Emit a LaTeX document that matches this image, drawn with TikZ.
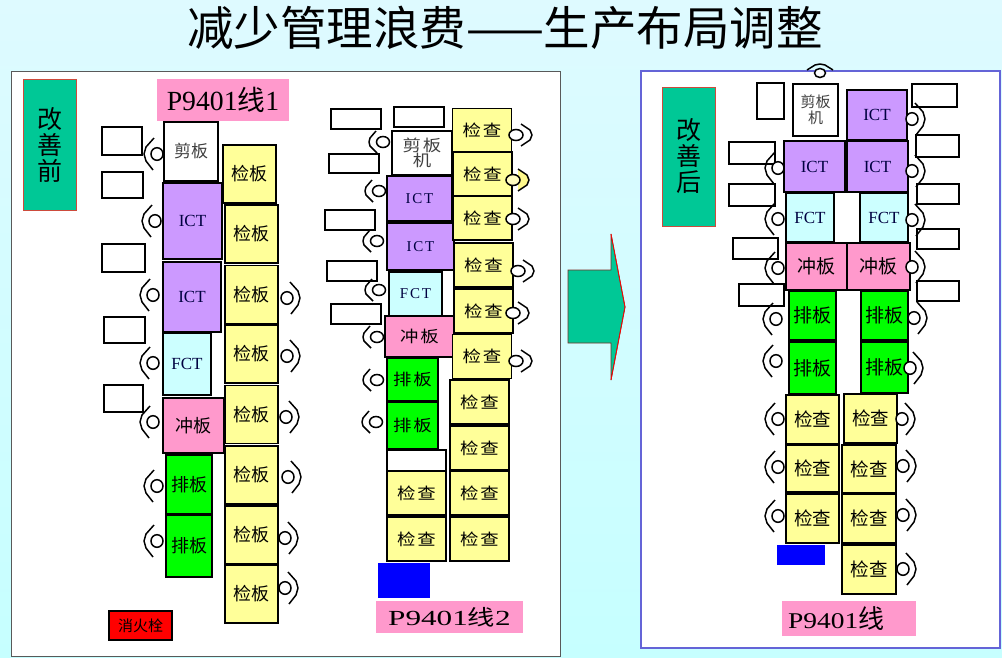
\documentclass[tikz,border=0pt]{standalone}
\usepackage{xcolor}
\usepackage{fontspec}
\setmainfont{Liberation Serif}
\newfontfamily\cjk{Noto Sans CJK SC}
\newfontfamily\cjkwide[FakeStretch=1.15,LetterSpace=12]{Noto Sans CJK SC}
\newfontfamily\serifwide[LetterSpace=12]{Liberation Serif}
\newfontfamily\serifstretch[FakeStretch=1.45]{Liberation Serif}
\newfontfamily\seriftag[FakeStretch=1.22]{Liberation Serif}
\newfontfamily\cjkstretch[FakeStretch=1.27]{Noto Sans CJK SC}
\definecolor{bgtop}{RGB}{222,250,255}
\definecolor{bgbot}{RGB}{198,255,255}
\definecolor{tealbox}{RGB}{0,200,150}
\definecolor{redline}{RGB}{205,75,60}
\definecolor{pinkbox}{RGB}{255,153,204}
\definecolor{ictbox}{RGB}{204,153,255}
\definecolor{fctbox}{RGB}{204,255,255}
\definecolor{jcbox}{RGB}{255,255,153}
\definecolor{panelblue}{RGB}{100,100,215}
\usepackage{tikz}

\begin{document}
\begin{tikzpicture}[
  x=1pt, y=-1pt,
  machine/.style={draw=black, line width=1.5pt, inner sep=0pt, align=center},
  cutbox/.style={machine, fill=white, text=black!75, font=\cjk\fontsize{17}{20}\selectfont},
  ictm/.style={machine, fill=ictbox, text=blue!25!black, font=\fontsize{17}{20}\selectfont},
  fctm/.style={machine, fill=fctbox, text=blue!25!black, font=\fontsize{17}{20}\selectfont},
  punch/.style={machine, fill=pinkbox, font=\cjk\fontsize{18}{20}\selectfont},
  sortm/.style={machine, fill=green, font=\cjk\fontsize{18}{20}\selectfont},
  inspb/.style={machine, fill=jcbox, minimum width=53, minimum height=58, font=\cjk\fontsize{18}{20}\selectfont},
  inspc/.style={machine, fill=jcbox, minimum width=59, minimum height=44, font=\cjkwide\fontsize{16}{18}\selectfont},
  inspd/.style={machine, fill=jcbox, minimum width=53, minimum height=49, font=\cjk\fontsize{18.5}{20}\selectfont},
  wide/.style={font=\serifwide\fontsize{15}{18}\selectfont},
  widezh/.style={font=\cjkwide\fontsize{16}{18}\selectfont},
  bigzh/.style={font=\cjk\fontsize{19}{20}\selectfont},
  lbox/.style={draw=black, line width=1.5pt, fill=white, inner sep=0pt},
  tagbox/.style={fill=pinkbox, inner sep=0pt, anchor=center},
  statebox/.style={draw=redline, fill=tealbox, line width=.8pt, inner sep=0pt, align=center,
    minimum width=53, font=\cjk\fontsize{25}{27}\selectfont},
  opl/.pic={
    \draw[line width=1.5pt, fill=white] (0,0) circle[x radius=6, y radius=6.3];
    \draw[line width=1.5pt, line join=round] (-3,-16) -- (-11,-7) -- (-13,0) -- (-11,7) -- (-4,16);
  },
  opr/.pic={
    \draw[line width=1.5pt, fill=white] (0,0) circle[x radius=6, y radius=6.3];
    \draw[line width=1.5pt, line join=round] (3,-16) -- (11,-7) -- (13,0) -- (11,7) -- (4,16);
  },
  opc/.pic={
    \draw[line width=1.5pt, fill=white] (0,0) circle[x radius=7, y radius=5.5];
    \draw[line width=1.5pt, line join=round] (5,-11) -- (14,-5) -- (16,0) -- (14,5) -- (5,11);
  },
  opb/.pic={
    \draw[line width=1.5pt, fill=white] (0,0) circle[x radius=6.5, y radius=5.5];
    \draw[line width=1.5pt, line join=round] (-7,-11) -- (-13,-4) -- (-14,0) -- (-13,4) -- (-6,11);
  },
  opy/.pic={
    \fill[yellow!45!white] (5,-11) -- (14,-5) -- (16,0) -- (14,5) -- (5,11) -- cycle;
    \draw[line width=1.5pt, line join=round] (5,-11) -- (14,-5) -- (16,0) -- (14,5) -- (5,11);
    \draw[line width=1.5pt, fill=yellow!25!white] (0,0) circle[x radius=7, y radius=5.5];
  },
  opt/.pic={
    \draw[line width=1.5pt, fill=white] (0,0) circle[x radius=5.5, y radius=4.5];
    \draw[line width=1.5pt, line join=round] (-13,-3) -- (-5,-8) -- (0,-9) -- (5,-8) -- (13,-3);
  }
]
\useasboundingbox (0,0) rectangle (1002,657);
\fill[bottom color=bgbot, top color=bgtop] (0,0) rectangle (1002,657);

\node (title) at (505,28) {\cjk\fontsize{46.5}{50}\selectfont 减少管理浪费——生产布局调整};

% panels
\draw[draw=black!65, fill=white, line width=1pt] (11,71) rectangle (560,656);
\draw[draw=panelblue, fill=white, line width=1.1pt] (641,71) rectangle (1000,648);

% before
\node[statebox, minimum height=131] (before) at (49.5,144.5) {改\\[-1pt]善\\[-1pt]前};
\node[tagbox, minimum width=132, minimum height=42] (tag1) at (223,100)
  {\fontsize{27.7}{30}\selectfont P9401{\cjk 线}1\hspace{14pt}};
\node[lbox, minimum width=40, minimum height=28] (lb1) at (122,141) {};
\node[lbox, minimum width=41, minimum height=26] (lb2) at (122.5,185) {};
\node[lbox, minimum width=43, minimum height=28] (lb3) at (123.5,258) {};
\node[lbox, minimum width=41, minimum height=26] (lb4) at (124.5,330) {};
\node[lbox, minimum width=39, minimum height=27] (lb5) at (123.5,398.5) {};

\node[cutbox, minimum width=54, minimum height=59] (cut1) at (191,151.5) {剪板};
\node[ictm, minimum width=59, minimum height=76] (ict1a) at (192.5,221) {ICT};
\node[ictm, minimum width=58, minimum height=70] (ict1b) at (192,297) {ICT};
\node[fctm, minimum width=48, minimum height=62] (fct1) at (187,364) {FCT};
\node[punch, minimum width=61, minimum height=55] (punch1) at (193.5,425.5) {冲板};
\node[sortm, minimum width=46, minimum height=59] (sort1a) at (189,484.5) {排板};
\node[sortm, minimum width=46, minimum height=62] (sort1b) at (189,546) {排板};

\node[inspb] (insp1a) at (249.5,174) {检板};
\node[inspb] (insp1b) at (251.5,234) {检板};
\node[inspb] (insp1c) at (251.5,294.5) {检板};
\node[inspb] (insp1d) at (251.5,354) {检板};
\node[inspb] (insp1e) at (251.5,414.5) {检板};
\node[inspb] (insp1f) at (251.5,475) {检板};
\node[inspb] (insp1g) at (251.5,535) {检板};
\node[inspb] (insp1h) at (251.5,594) {检板};

\node[draw=black, line width=1.5pt, fill=red, inner sep=0pt, minimum width=63, minimum height=29,
  font=\cjk\fontsize{15}{17}\selectfont] (hydrant) at (140.5,625.5) {消火栓};

\pic at (157,154) {opl};
\pic at (155,221) {opl};
\pic at (153,295) {opl};
\pic at (153,363) {opl};
\pic at (153,422) {opl};
\pic at (157,486) {opl};
\pic at (157,541) {opl};
\pic at (287,298) {opr};
\pic at (287,356) {opr};
\pic at (286,417) {opr};
\pic at (288,477) {opr};
\pic at (285,538) {opr};
\pic at (285,588) {opr};

% line 2
\node[lbox, minimum width=50, minimum height=20] (lb6) at (356,119) {};
\node[lbox, minimum width=50, minimum height=20] (lb7) at (419,117) {};
\node[lbox, minimum width=50, minimum height=19] (lb8) at (354,163.5) {};
\node[lbox, minimum width=50, minimum height=20] (lb9) at (350,220) {};
\node[lbox, minimum width=50, minimum height=20] (lb10) at (352,271) {};
\node[lbox, minimum width=50, minimum height=20] (lb11) at (356,314) {};

\node[cutbox, widezh, minimum width=60, minimum height=44] (cut2) at (422,153)
  {剪板\\[-3pt]机};
\node[ictm, wide, minimum width=65, minimum height=45] (ict2a) at (419.5,198.5) {ICT};
\node[ictm, wide, minimum width=67, minimum height=47] (ict2b) at (420.5,246.5) {ICT};
\node[fctm, wide, minimum width=53, minimum height=44] (fct2) at (415.5,294) {FCT};
\node[punch, widezh, minimum width=69, minimum height=41] (punch2) at (419.5,336.5) {冲板};
\node[sortm, widezh, minimum width=51, minimum height=43] (sort2a) at (412.5,379.5) {排板};
\node[sortm, widezh, minimum width=51, minimum height=47] (sort2b) at (412.5,425.5) {排板};
\node[lbox, minimum width=59, minimum height=21] (blank2) at (416.5,460.5) {};
\node[inspc] (insp2a) at (416.5,493) {检查};
\node[inspc] (insp2b) at (416.5,539) {检查};

\node[inspc] (insp2c) at (482,130.5) {检查};
\node[inspc] (insp2d) at (482.5,174) {检查};
\node[inspc] (insp2e) at (482.5,218) {检查};
\node[inspc] (insp2f) at (483.5,265) {检查};
\node[inspc] (insp2g) at (483.5,311) {检查};
\node[inspc] (insp2h) at (482,356.5) {检查};
\node[inspc] (insp2i) at (479.5,402) {检查};
\node[inspc] (insp2j) at (479.5,448) {检查};
\node[inspc] (insp2k) at (479.5,493) {检查};
\node[inspc] (insp2l) at (479.5,539) {检查};

\node[fill=blue, inner sep=0pt, minimum width=52, minimum height=35] (blue2) at (404,580.5) {};
\node[tagbox, minimum width=147, minimum height=32] (tag2) at (449.5,617)
  {\serifstretch\fontsize{21.5}{25}\selectfont P9401{\cjkstretch 线}2};

\pic at (383,142) {opb};
\pic at (379,191) {opb};
\pic at (377,241) {opb};
\pic at (379,290) {opb};
\pic at (377,337) {opb};
\pic at (377,380) {opb};
\pic at (376,422) {opb};
\pic at (516,135) {opc};
\pic at (513,180) {opy};
\pic at (513,219) {opc};
\pic at (518,271) {opc};
\pic at (513,313) {opc};
\pic at (516,361) {opc};

% arrow
\draw[draw=black!40!redline, fill=tealbox, line width=.8pt] (568,270) -- (611,270) -- (611,234)
  -- (625,307) -- (611,380) -- (611,343) -- (568,343) -- cycle;
\draw[red, line width=.8pt] (611,234) -- (625,307) -- (611,380);

% after
\node[statebox, minimum height=139] (after) at (688.5,156.5) {改\\[-1pt]善\\[-1pt]后};
\node[lbox, minimum width=27, minimum height=36] (lb12) at (770.5,101) {};
\node[lbox, minimum width=45, minimum height=23] (lb13) at (934.5,95.5) {};
\node[lbox, minimum width=46, minimum height=22] (lb14) at (752,153) {};
\node[lbox, minimum width=43, minimum height=22] (lb15) at (937.5,146) {};
\node[lbox, minimum width=46, minimum height=22] (lb16) at (752,195) {};
\node[lbox, minimum width=42, minimum height=20] (lb17) at (938,194) {};
\node[lbox, minimum width=45, minimum height=21] (lb18) at (755.5,248.5) {};
\node[lbox, minimum width=42, minimum height=20] (lb19) at (938,239) {};
\node[lbox, minimum width=45, minimum height=22] (lb20) at (761.5,295) {};
\node[lbox, minimum width=42, minimum height=20] (lb21) at (938,291) {};

\node[cutbox, minimum width=45, minimum height=52, font=\cjk\fontsize{15}{17}\selectfont] (cut3) at (815.5,110)
  {剪板\\[-1pt]机};
\node[ictm, minimum width=60, minimum height=50] (ict3a) at (877,115) {ICT};
\node[ictm, minimum width=61, minimum height=51] (ict3b) at (814.5,166.5) {ICT};
\node[ictm, minimum width=61, minimum height=51] (ict3c) at (877.5,166.5) {ICT};
\node[fctm, minimum width=48, minimum height=49] (fct3a) at (810,217.5) {FCT};
\node[fctm, minimum width=48, minimum height=49] (fct3b) at (884,217.5) {FCT};
\node[punch, bigzh, minimum width=61, minimum height=47] (punch3a) at (816.5,266.5) {冲板};
\node[punch, bigzh, minimum width=63, minimum height=47] (punch3b) at (878.5,266.5) {冲板};
\node[sortm, bigzh, minimum width=47, minimum height=49] (sort3a) at (812.5,315.5) {排板};
\node[sortm, bigzh, minimum width=47, minimum height=49] (sort3b) at (884.5,315.5) {排板};
\node[sortm, bigzh, minimum width=47, minimum height=52] (sort3c) at (812.5,368) {排板};
\node[sortm, bigzh, minimum width=47, minimum height=51] (sort3d) at (884.5,367.5) {排板};

\node[inspd] (insp3a) at (812.5,419.5) {检查};
\node[inspd, minimum height=47] (insp3b) at (812.5,468.5) {检查};
\node[inspd] (insp3c) at (812.5,518.5) {检查};
\node[inspd] (insp3d) at (870.5,418.5) {检查};
\node[inspd, minimum width=54, minimum height=48] (insp3e) at (869,469) {检查};
\node[inspd, minimum width=54] (insp3f) at (869,518.5) {检查};
\node[inspd, minimum width=54] (insp3g) at (869,569.5) {检查};

\node[fill=blue, inner sep=0pt, minimum width=48, minimum height=20] (blue3) at (801,555) {};
\node[tagbox, minimum width=134, minimum height=35] (tag3) at (849,618.5) {};
\node[anchor=west, inner sep=0pt] (tag3txt) at (788,618.5)
  {\seriftag\fontsize{22.5}{27}\selectfont P9401{\cjk\fontsize{26}{27}\selectfont 线}};

\pic at (820,73) {opt};
\pic at (778,168) {opl};
\pic at (778,219) {opl};
\pic at (778,268) {opl};
\pic at (776,319) {opl};
\pic at (776,361) {opl};
\pic at (778,419) {opl};
\pic at (778,467) {opl};
\pic at (778,516) {opl};
\pic at (912,119) {opr};
\pic at (912,171) {opr};
\pic at (912,220) {opr};
\pic at (912,267) {opr};
\pic at (914,318) {opr};
\pic at (910,368) {opr};
\pic at (902,419) {opr};
\pic at (903,466) {opr};
\pic at (903,515) {opr};
\pic at (903,569) {opr};
\end{tikzpicture}
\end{document}
